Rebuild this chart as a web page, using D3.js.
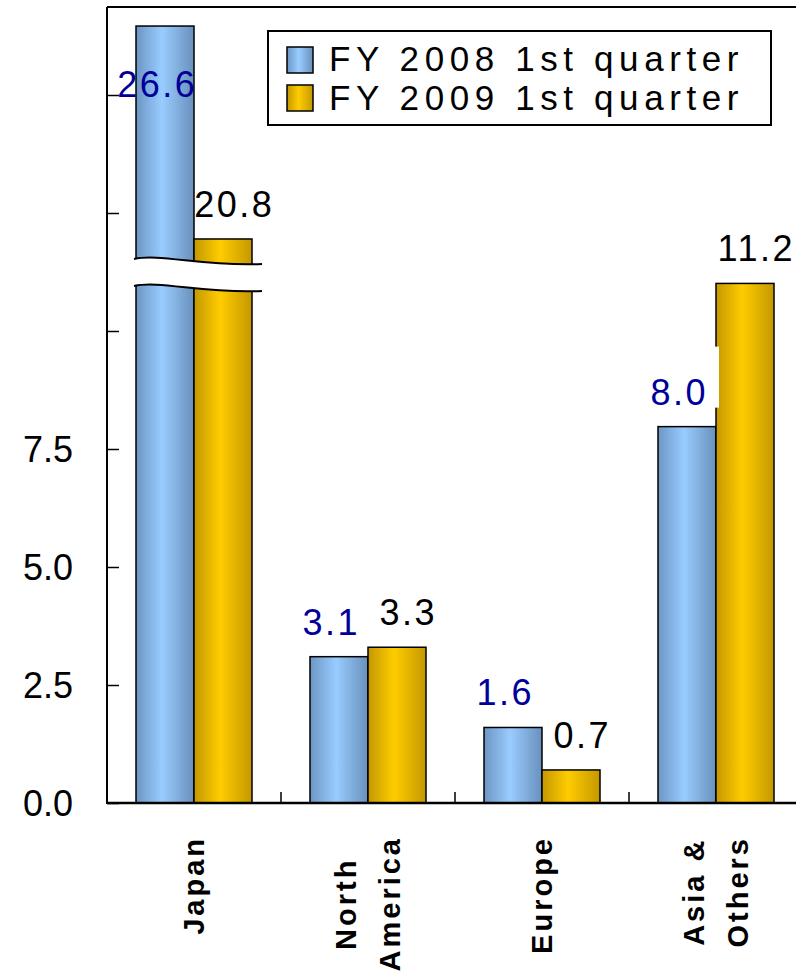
<!DOCTYPE html>
<html>
<head>
<meta charset="utf-8">
<script src="https://cdn.jsdelivr.net/npm/d3@7"></script>
<style>
  body { margin: 0; background: #fff; }
  text { font-family: "Liberation Sans", Arial, sans-serif; }
</style>
</head>
<body>
<div id="chart"></div>
<script>
// data
var categories = ["Japan", "North America", "Europe", "Asia & Others"];
var catLines = [["Japan"], ["North", "America"], ["Europe"], ["Asia &", "Others"]];
var seriesNames = ["FY 2008 1st quarter", "FY 2009 1st quarter"];
var fy2008 = [26.6, 3.1, 1.6, 8.0];
var fy2009 = [20.8, 3.3, 0.7, 11.2];
var tickValues = [0, 2.5, 5, 7.5, 10, 12.5, 15];
var tickLabels = ["0.0", "2.5", "5.0", "7.5", "", "", ""];

var W = 796, H = 976;
var plotLeft = 107, plotRight = 803, plotTop = 7, base = 803;
var unitLo = 47.2; // px per unit below the break

var svg = d3.select("#chart").append("svg")
    .attr("width", W)
    .attr("height", H);

var defs = svg.append("defs");
function grad(id, edgeL, mid, edgeR) {
  var g = defs.append("linearGradient").attr("id", id)
      .attr("x1", "0%").attr("x2", "100%").attr("y1", "0%").attr("y2", "0%");
  g.append("stop").attr("offset", "0%").attr("stop-color", edgeL);
  g.append("stop").attr("offset", "45%").attr("stop-color", mid);
  g.append("stop").attr("offset", "100%").attr("stop-color", edgeR);
}
grad("gBlue", "#6c96c4", "#99ccff", "#6990bb");
grad("gGold", "#c49800", "#ffcc00", "#c49800");
var fills = ["url(#gBlue)", "url(#gGold)"];
var labelColors = ["#000099", "#000000"];

// scales
var x = d3.scaleBand().domain(categories).range([plotLeft, plotRight])
    .paddingInner(1 / 3).paddingOuter(1 / 6);
var x1 = d3.scaleBand().domain([0, 1]).range([0, x.bandwidth()]);

// broken value scale (compressed between ~11.5 and ~20.5)
var y = d3.scaleLinear()
    .domain([0, 7.5, 11.5, 20.5, 27.5])
    .range([base, base - 7.5 * unitLo, 270, 250, -7]);
// axis scale (plain linear, same spacing as the lower part)
var yAxisScale = d3.scaleLinear().domain([0, 15]).range([base, base - 15 * unitLo]);

// clip to plot area
defs.append("clipPath").attr("id", "plotClip")
  .append("rect").attr("x", plotLeft).attr("y", plotTop)
  .attr("width", W - plotLeft).attr("height", base - plotTop);

// bars
var rows = categories.map(function(c, i) {
  return { cat: c, vals: [fy2008[i], fy2009[i]] };
});
var plot = svg.append("g").attr("clip-path", "url(#plotClip)");
var barG = plot.append("g");
rows.forEach(function(r) {
  r.vals.forEach(function(v, s) {
    barG.append("rect")
      .attr("x", x(r.cat) + x1(s))
      .attr("y", y(v))
      .attr("width", x1.bandwidth())
      .attr("height", base - y(v))
      .style("fill", fills[s])
      .attr("stroke", "#000")
      .attr("stroke-width", 1.5);
  });
});

// axis break over the Japan bars
var bx0 = x("Japan") - 2, bx1 = x("Japan") + x.bandwidth() + 10;
var bw = bx1 - bx0;
function wave(yy) {
  return "M" + bx0 + "," + yy +
    " C" + (bx0 + bw * 0.2) + "," + (yy - 6) + " " + (bx0 + bw * 0.55) + "," + (yy + 8) + " " + bx1 + "," + (yy + 5);
}
var upperY = 259, lowerY = 286;
svg.append("path")
  .attr("d", wave(upperY) + " L" + bx1 + "," + (lowerY + 5) +
    " C" + (bx0 + bw * 0.55) + "," + (lowerY + 8) + " " + (bx0 + bw * 0.2) + "," + (lowerY - 6) + " " + bx0 + "," + lowerY + " Z")
  .attr("fill", "#fff").attr("stroke", "none");
svg.append("path").attr("d", wave(upperY)).attr("fill", "none").attr("stroke", "#000").attr("stroke-width", 2);
svg.append("path").attr("d", wave(lowerY)).attr("fill", "none").attr("stroke", "#000").attr("stroke-width", 2);

// frame lines
svg.append("line").attr("x1", plotLeft).attr("x2", W).attr("y1", plotTop).attr("y2", plotTop)
  .attr("stroke", "#000").attr("stroke-width", 2);
svg.append("line").attr("x1", plotLeft).attr("x2", W).attr("y1", base).attr("y2", base)
  .attr("stroke", "#000").attr("stroke-width", 2.5);

// category separator ticks
categories.slice(1).forEach(function(c) {
  var tx = x(c) - (x.step() - x.bandwidth()) / 2;
  svg.append("line").attr("x1", tx).attr("x2", tx).attr("y1", base).attr("y2", base - 11)
    .attr("stroke", "#000").attr("stroke-width", 1.5);
});

// y axis
var yAxis = d3.axisLeft(yAxisScale)
  .tickValues(tickValues)
  .tickSizeInner(-12)
  .tickSizeOuter(0)
  .tickPadding(34)
  .tickFormat(function(d, i) { return tickLabels[i]; });
var ya = svg.append("g").attr("transform", "translate(" + plotLeft + ",0)").call(yAxis);
ya.select(".domain").remove();
ya.selectAll(".tick line").attr("stroke", "#000").attr("stroke-width", 1.5);
ya.selectAll(".tick text").attr("font-size", 36).attr("fill", "#000")
  .attr("font-family", "Liberation Sans, Arial, sans-serif").attr("dy", "0.36em");
svg.append("line").attr("x1", plotLeft).attr("x2", plotLeft).attr("y1", plotTop).attr("y2", base + 1)
  .attr("stroke", "#000").attr("stroke-width", 2);

// value labels
var labelDx = [-9, 10];
rows.forEach(function(r) {
  r.vals.forEach(function(v, s) {
    var cx = x(r.cat) + x1(s) + x1.bandwidth() / 2 + labelDx[s];
    var ly = Math.max(y(v) - 22, plotTop + 90);
    if (s === 0 && ly < y(v)) {
      // label sits above its bar: white box behind it (clips the neighbour edge)
      plot.append("rect")
        .attr("x", cx - 49).attr("y", ly - 58)
        .attr("width", 90).attr("height", 61)
        .attr("fill", "#fff");
    }
    svg.append("text")
      .attr("x", cx + 1.25)
      .attr("y", ly)
      .attr("text-anchor", "middle")
      .attr("font-size", 36)
      .attr("letter-spacing", 2.5)
      .attr("fill", labelColors[s])
      .text(v.toFixed(1));
  });
});

// category labels (rotated, block end-aligned just under the axis)
var catTop = 836, lineGap = 44;
catLines.forEach(function(lines, i) {
  var cx = x(categories[i]) + x.bandwidth() / 2;
  var g = svg.append("g");
  var ts = lines.map(function(l, k) {
    return g.append("text")
      .attr("text-anchor", "middle")
      .attr("font-size", 29)
      .attr("letter-spacing", 3)
      .attr("fill", "#000")
      .style("font-weight", "bold")
      .attr("x", 0)
      .attr("y", (k - (lines.length - 1) / 2) * lineGap)
      .attr("dy", "0.36em")
      .text(l);
  });
  var longest = d3.max(ts, function(t) { return t.node().getComputedTextLength(); });
  g.attr("transform", "translate(" + cx + "," + (catTop + longest / 2) + ") rotate(-90)");
});

// legend
var lg = svg.append("g");
lg.append("rect").attr("x", 268).attr("y", 31).attr("width", 503).attr("height", 94)
  .attr("fill", "#fff").attr("stroke", "#000").attr("stroke-width", 2);
seriesNames.forEach(function(n, i) {
  var ry = 47 + i * 38;
  lg.append("rect").attr("x", 287).attr("y", ry).attr("width", 26).attr("height", 26)
    .style("fill", fills[i]).attr("stroke", "#000").attr("stroke-width", 1.5);
  lg.append("text").attr("x", 329).attr("y", 71 + i * 39)
    .attr("font-size", 35)
    .attr("letter-spacing", 5.6)
    .attr("fill", "#000")
    .text(n);
});
</script>
</body>
</html>
